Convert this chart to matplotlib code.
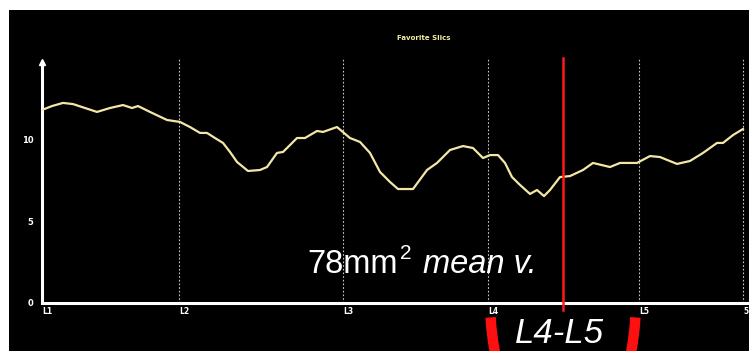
import matplotlib
matplotlib.use("Agg")
import matplotlib.pyplot as plt
from matplotlib.patches import Arc, Rectangle

# ---- data ----
slice_pos = [0, 10, 21, 31, 43, 55, 68, 81, 90, 96, 108, 125, 138, 148, 158, 165, 173, 181,
             188, 195, 206, 218, 225, 235, 241, 248, 255, 263, 275, 281, 295, 308, 318, 328,
             338, 348, 356, 371, 385, 395, 408, 421, 431, 441, 448, 456, 463, 470, 478, 488,
             495, 502, 508, 518, 528, 541, 551, 568, 578, 595, 608, 618, 635, 648, 661, 675,
             681, 691, 701]
area_values = [11.77, 12.01, 12.20, 12.13, 11.89, 11.65, 11.89, 12.07, 11.89, 12.01, 11.65,
               11.16, 11.04, 10.73, 10.37, 10.37, 10.06, 9.76, 9.21, 8.60, 8.05, 8.11, 8.29,
               9.15, 9.21, 9.63, 10.06, 10.06, 10.49, 10.43, 10.73, 10.06, 9.82, 9.15, 7.99,
               7.38, 6.95, 6.95, 8.11, 8.54, 9.33, 9.57, 9.45, 8.84, 9.02, 9.02, 8.54, 7.68,
               7.20, 6.65, 6.89, 6.52, 6.89, 7.68, 7.74, 8.11, 8.54, 8.29, 8.54, 8.54, 8.96,
               8.90, 8.48, 8.66, 9.15, 9.76, 9.76, 10.24, 10.61]
level_pos = [0, 137, 301, 446, 597, 701]
level_labels = ["L1", "L2", "L3", "L4", "L5", "5"]
guide_pos = [137, 301, 446, 597, 701]
y_ticks = [0, 5, 10]
selected_slice = 521
title = "Favorite Slics"
note_value = "78mm"
note_sup = "2"
note_text = "mean v."
level_label = "L4-L5"

W, H = 749, 351
fig = plt.figure(figsize=(W / 100, H / 100), dpi=100, facecolor="black")

# main axes
x0, x1, ybot, ytop = 42, 749, 303, 58
ax = fig.add_axes([x0 / W, (H - ybot) / H, (x1 - x0) / W, (ybot - ytop) / H])
ax.set_facecolor("black")
ax.set_xlim(0, x1 - x0)
ax.set_ylim(0, (ybot - ytop) / 16.4)

for g in guide_pos:
    ax.axvline(g, color="#c8c8c8", lw=0.8, ls=(0, (1.5, 1.8)), zorder=1)

ax.plot(slice_pos, area_values, color="#f3e7a8", lw=1.6, zorder=3)
ax.axvline(selected_slice, ymin=-0.03, ymax=1.0, color="#ff1a1a", lw=1.8, zorder=4, clip_on=False)

for s in ["top", "right"]:
    ax.spines[s].set_visible(False)
for s in ["left", "bottom"]:
    ax.spines[s].set_color("white")
    ax.spines[s].set_linewidth(2.2)
ax.spines["left"].set_bounds(0, (ybot - 62) / 16.4)
ax.plot([0], [(ybot - 62) / 16.4], marker="^", color="white", ms=5, clip_on=False, zorder=5)

ax.set_yticks(y_ticks)
ax.set_yticklabels([str(v) for v in y_ticks], color="white", fontsize=6, fontweight="bold")
ax.tick_params(axis="y", length=0, pad=6)
ax.set_xticks(level_pos)
ax.set_xticklabels(level_labels, color="white", fontsize=5.5, fontweight="bold", ha="left")
ax.tick_params(axis="x", length=0, pad=3)

# overlay in pixel coordinates
ov = fig.add_axes([0, 0, 1, 1], facecolor="none")
ov.set_xlim(0, W)
ov.set_ylim(H, 0)
ov.axis("off")
ov.add_patch(Rectangle((0, 0), W, 10, color="white", lw=0))
ov.add_patch(Rectangle((0, 0), 9, H, color="white", lw=0))

ov.text(424, 38, title, color="#f5efa0", fontsize=5, fontweight="bold", ha="center", va="center")

ov.text(307, 273, note_value, color="white", fontsize=23.5, family="Liberation Sans", va="baseline")
ov.text(400, 259, note_sup, color="white", fontsize=15, family="Liberation Sans", va="baseline")
ov.text(423, 273, note_text, color="white", fontsize=23.5, family="Liberation Sans",
        style="italic", va="baseline")

ov.text(515, 343, level_label, color="white", fontsize=25, family="Liberation Sans",
        style="italic", va="baseline")
for t1, t2 in [(138, 165), (15, 42)]:
    ov.add_patch(Arc((563, 298), 146, 301, theta1=t1, theta2=t2, color="#ff1010", lw=7.5))

fig.savefig("out.png", dpi=100, facecolor="black")
